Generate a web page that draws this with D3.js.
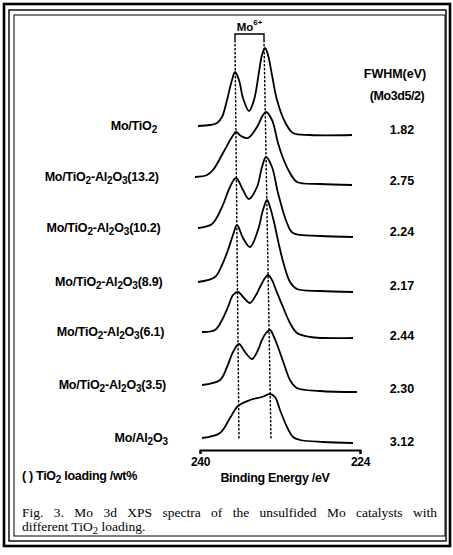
<!DOCTYPE html>
<html>
<head>
<meta charset="utf-8">
<title>Mo 3d XPS spectra</title>
<style>
  body { margin: 0; background: #fff; }
  svg text { font-family: "Liberation Sans", Arial, sans-serif; font-weight: bold; fill: #000; }
  svg text.cap { font-family: "Liberation Serif", "Times New Roman", serif; font-weight: normal; }
</style>
</head>
<body>
<script src="https://cdnjs.cloudflare.com/ajax/libs/d3/7.9.0/d3.min.js"></script>
<script>
const width = 453, height = 555;

// sample names, "_" marks a subscript digit
const samples = [
  "Mo/TiO_2",
  "Mo/TiO_2-Al_2O_3(13.2)",
  "Mo/TiO_2-Al_2O_3(10.2)",
  "Mo/TiO_2-Al_2O_3(8.9)",
  "Mo/TiO_2-Al_2O_3(6.1)",
  "Mo/TiO_2-Al_2O_3(3.5)",
  "Mo/Al_2O_3"
];
const fwhm = ["1.82", "2.75", "2.24", "2.17", "2.44", "2.30", "3.12"];
// stacking offset of each spectrum
const offsets = [324, 273, 222, 168, 118, 65, 12];

// [binding energy (eV), intensity above left baseline]
const specTiO2 = [[240.2,0],[239.0,1],[238.3,3],[237.8,9],[237.3,26],[236.8,46],[236.5,54],[236.1,46],[235.7,28],[235.1,15],[234.6,26],[234.1,54],[233.8,71],[233.5,78],[233.2,71],[232.8,51],[232.3,26],[231.5,4],[230.7,-7],[229.0,-9],[224.8,-9]];
const spec132 = [[240.5,0],[239.3,2],[238.7,7],[237.7,24],[236.8,40],[236.4,45],[235.9,41],[235.2,39],[234.3,50],[233.7,62],[233.4,65],[232.8,57],[232.2,34],[231.7,19],[231.0,4],[230.3,-5],[228.0,-7],[224.8,-8]];
const spec102 = [[240.2,0],[238.8,4],[237.8,21],[237.0,41],[236.4,50],[235.7,38],[235.1,29],[234.3,41],[233.8,61],[233.4,71],[232.8,61],[232.2,35],[231.3,5],[230.7,-5],[228.0,-8],[224.7,-9]];
const spec89 = [[240.2,0],[238.5,5],[237.8,17],[237.2,32],[236.7,47],[236.3,57],[235.7,44],[235.0,35],[234.2,52],[233.7,72],[233.3,82],[233.0,75],[232.6,60],[232.1,37],[231.6,17],[231.0,0],[230.3,-7],[228.0,-9],[224.7,-10]];
const spec61 = [[239.8,0],[238.5,2],[237.8,12],[237.2,25],[236.7,37],[236.2,40],[235.6,34],[235.0,29],[234.4,37],[234.0,45],[233.5,54],[233.2,57],[232.8,52],[232.4,42],[231.7,25],[231.0,9],[230.3,-1],[229.0,-5],[224.7,-6]];
const spec35 = [[239.8,0],[238.0,5],[237.3,18],[236.7,33],[236.1,41],[235.5,33],[234.8,26],[234.2,35],[233.8,45],[233.4,52],[233.0,55],[232.6,48],[232.2,38],[231.5,18],[231.0,5],[230.3,-3],[228.0,-6],[224.3,-7]];
const specAl = [[239.8,0],[238.0,5],[237.0,20],[236.2,32],[235.0,38],[233.8,41],[233.0,44],[232.5,41],[232.0,28],[231.3,11],[230.7,1],[230.0,-2],[227.7,-4],[224.7,-5]];
const spectra = [specTiO2, spec132, spec102, spec89, spec61, spec35, specAl];

// Mo6+ guide lines: [energy at top, energy at bottom]
const guide32 = [236.5, 236.1];
const guide52 = [233.6, 232.9];
const guideSpan = [410, 10];     // top / bottom in intensity units
const bracketTop = 416;
const xTicks = [240, 224];

const fs = 12.5;

const svg = d3.select("body").append("svg")
  .attr("width", width)
  .attr("height", height);

// scanned double frame
[[4, 4, 446, 542, 2.6], [9, 10, 437, 531, 1.4], [14, 15, 431, 521, 1]].forEach(r => {
  svg.append("rect")
    .attr("x", r[0]).attr("y", r[1]).attr("width", r[2]).attr("height", r[3])
    .attr("fill", "none").attr("stroke", "#000").attr("stroke-width", r[4]);
});

const x = d3.scaleLinear().domain([240, 224]).range([200, 360]);
const y = d3.scaleLinear().domain([0, 450]).range([450, 0]);

// text with "_n" subscripts
function rich(sel, str, size) {
  let low = false;
  str.split(/(_\d)/).filter(s => s).forEach(s => {
    const sub = s[0] === "_";
    const t = sel.append("tspan").text(sub ? s.slice(1) : s);
    if (sub) { t.attr("font-size", size * 0.8).attr("dy", low ? 0 : 3); low = true; }
    else { t.attr("dy", low ? -3 : 0); low = false; }
  });
}

const line = d3.line()
  .x(d => x(d[0]))
  .curve(d3.curveCatmullRom.alpha(0.5));

spectra.forEach((s, i) => {
  svg.append("path")
    .attr("d", line.y(d => y(offsets[i] + d[1]))(s))
    .attr("fill", "none")
    .attr("stroke", "#000")
    .attr("stroke-width", 1.8)
    .attr("stroke-linejoin", "round");

  const lab = svg.append("text")
    .attr("x", 157 + i * 1.8)
    .attr("y", y(offsets[i]) + 4)
    .attr("text-anchor", "end")
    .attr("font-size", fs)
    .attr("letter-spacing", -0.2);
  rich(lab, samples[i], fs);

  svg.append("text")
    .attr("x", 402)
    .attr("y", y(offsets[i]) + 8)
    .attr("text-anchor", "middle")
    .attr("font-size", fs)
    .text(fwhm[i]);
});

// dotted guide lines
[guide32, guide52].forEach(g => {
  svg.append("line")
    .attr("x1", x(g[0])).attr("y1", y(guideSpan[0]))
    .attr("x2", x(g[1])).attr("y2", y(guideSpan[1]))
    .attr("stroke", "#000")
    .attr("stroke-width", 1.4)
    .attr("stroke-dasharray", "2.5,1.5");
});

// Mo6+ bracket
svg.append("path")
  .attr("d", `M${x(guide32[0])},${y(guideSpan[0])}V${y(bracketTop)}H${x(guide52[0])}V${y(guideSpan[0])}`)
  .attr("fill", "none")
  .attr("stroke", "#000")
  .attr("stroke-width", 1.4);

const mo = svg.append("text")
  .attr("x", (x(guide32[0]) + x(guide52[0])) / 2)
  .attr("y", y(bracketTop) - 3)
  .attr("text-anchor", "middle")
  .attr("font-size", 11.5);
mo.append("tspan").text("Mo");
mo.append("tspan").attr("font-size", 8).attr("dy", -6).text("6+");

// FWHM header
svg.append("text").attr("x", 395).attr("y", 78).attr("text-anchor", "middle")
  .attr("font-size", fs).text("FWHM(eV)");
svg.append("text").attr("x", 397).attr("y", 100).attr("text-anchor", "middle")
  .attr("font-size", fs).attr("letter-spacing", -0.4).text("(Mo3d5/2)");

// energy axis
const ax = svg.append("g")
  .attr("transform", `translate(0,${y(0)})`)
  .call(d3.axisBottom(x).tickValues(xTicks).tickSize(4).tickSizeOuter(4).tickPadding(3));
ax.attr("font-family", null).attr("font-size", null);
ax.select(".domain").attr("stroke-width", 2);
ax.selectAll(".tick line").attr("stroke-width", 2);
ax.selectAll(".tick text").attr("font-size", 12).attr("letter-spacing", -0.4);

svg.append("text")
  .attr("x", 275).attr("y", 482)
  .attr("text-anchor", "middle")
  .attr("font-size", fs)
  .attr("letter-spacing", -0.3)
  .text("Binding Energy /eV");

const note = svg.append("text")
  .attr("x", 22).attr("y", 480)
  .attr("font-size", fs)
  .attr("letter-spacing", -0.3);
rich(note, "( ) TiO_2 loading /wt%", fs);

// caption, first line justified through word spacing
const cap1 = svg.append("text")
  .attr("class", "cap")
  .attr("x", 22).attr("y", 517)
  .attr("font-size", 13.5)
  .text("Fig. 3. Mo 3d XPS spectra of the unsulfided Mo catalysts with");
const natural = cap1.node().getComputedTextLength();
const gaps = cap1.text().split(" ").length - 1;
cap1.attr("word-spacing", Math.max(0, (415 - natural) / gaps));

const cap2 = svg.append("text")
  .attr("class", "cap")
  .attr("x", 22).attr("y", 531)
  .attr("font-size", 13.5);
rich(cap2, "different TiO_2 loading.", 13.5);
</script>
</body>
</html>
